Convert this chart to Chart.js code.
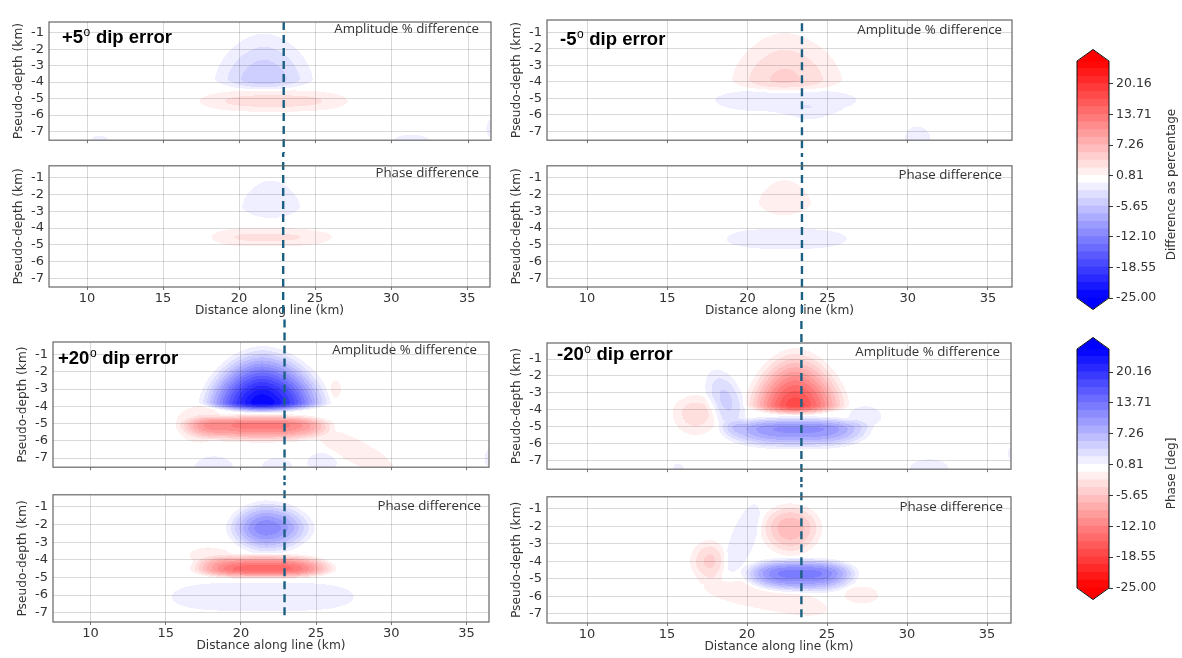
<!DOCTYPE html>
<html>
<head>
<meta charset="utf-8">
<title>Dip error sensitivity</title>
<script src="https://cdn.jsdelivr.net/npm/chart.js@4.4.1/dist/chart.umd.min.js"></script>
<style>
  body { margin: 0; background: #fff; }
  #fig { position: relative; width: 1182px; height: 658px; overflow: hidden; background: #fff; }
  #fig canvas { position: absolute; }
</style>
</head>
<body>
<div id="fig"></div>
<script>
// ---- values ----
const xTicks = [10, 15, 20, 25, 30, 35];
const depthTicks = [-1, -2, -3, -4, -5, -6, -7];
const stations = [15, 16, 17, 18, 19, 20, 21, 22, 23, 24, 25, 26, 27, 28, 29];
const colorTicks = [-25.00, -18.55, -12.10, -5.65, 0.81, 7.26, 13.71, 20.16];
const profileLeft = 22.9;   // dashed profile, left column (km)
const profileRight = 23.4;  // dashed profile, right column (km)

// anomalies: [x km, depth km, reach left, reach right, reach up, reach down, peak,
//             x shape, z shape, tilt]   (reaches go to the faintest visible contour)
const ampPlus5 = [
  [21.6, -3.85, 3.2, 3.2, 2.8, 0.65, -5.5, 1.8, 1.6],
  [22.2, -5.15, 4.8, 4.9, 0.65, 0.65, 3.2, 3],
  [10.8, -7.5, 0.5, 0.5, 0.25, 0.3, -1.2],
  [31.3, -7.6, 1.2, 1.2, 0.4, 0.3, -1.3],
  [36.6, -6.8, 0.4, 0.4, 0.6, 0.6, -1.3]
];
const phasePlus5 = [
  [22.1, -2.75, 1.9, 1.9, 1.6, 0.65, 1.9, 1.8, 1.6],
  [21.5, -4.55, 3.3, 4.6, 0.55, 0.55, -2.8, 3]
];
const ampMinus5 = [
  [22.3, -3.9, 3.25, 3.6, 2.85, 0.75, 4.5, 1.8, 1.6],
  [22.4, -5.1, 4.4, 4.4, 0.6, 0.7, -2.2, 3],
  [23.9, -5.8, 1.2, 1.2, 0.3, 0.45, -1.2],
  [30.6, -7.5, 0.8, 0.8, 0.8, 0.3, -1.6]
];
const phaseMinus5 = [
  [22.3, -2.5, 1.6, 1.65, 1.37, 0.73, -1.9, 1.8, 1.6],
  [22.4, -4.65, 3.7, 3.8, 0.6, 0.6, 2.4, 3]
];
const ampPlus20 = [
  [21.4, -3.8, 4.2, 4.6, 3.3, 0.6, -25, 1.8, 1.6],
  [21.5, -5.1, 5.6, 4.7, 0.65, 1.0, 13, 3],
  [17.3, -5.0, 1.6, 1.5, 1.0, 1.1, 3],
  [27.6, -6.6, 2.6, 2.6, 0.75, 0.75, 1.9, 2, 2, -0.4],
  [26.3, -3.0, 0.35, 0.35, 0.5, 0.5, 1.3],
  [18.2, -7.6, 1.3, 1.3, 0.7, 0.3, -1.6],
  [22.4, -7.5, 1.0, 1.0, 0.5, 0.3, -1.5],
  [25.4, -7.3, 1.0, 1.0, 0.6, 0.4, -1.7],
  [36.8, -7.0, 0.6, 0.6, 0.6, 0.6, -1.6]
];
const phasePlus20 = [
  [21.7, -2.2, 2.7, 3.2, 1.57, 1.5, 12, 1.9, 1.8],
  [21.5, -4.5, 4.9, 4.85, 0.85, 0.6, -15, 3],
  [17.8, -3.75, 1.2, 1.5, 0.45, 0.5, -2.2],
  [21.4, -6.1, 6.0, 6.1, 0.8, 0.8, 1.6, 4]
];
const ampMinus20 = [
  [23.0, -3.75, 3.15, 3.4, 3.4, 0.6, 18, 1.8, 1.6],
  [23.3, -5.15, 5.0, 4.5, 0.75, 1.2, -11, 3],
  [18.7, -3.4, 1.3, 1.2, 1.6, 1.9, -4.5, 2, 2, -0.6],
  [27.4, -4.4, 1.0, 1.0, 0.6, 0.6, -2.0],
  [16.8, -4.2, 1.45, 1.4, 1.05, 1.3, 3.5],
  [31.4, -7.5, 1.2, 1.2, 0.55, 0.3, -1.8],
  [15.7, -7.6, 0.35, 0.35, 0.4, 0.2, -1.3],
  [36.8, -6.6, 0.5, 0.5, 0.5, 0.5, -1.5]
];
const phaseMinus20 = [
  [22.7, -2.1, 1.9, 2.0, 1.4, 1.6, -7],
  [23.3, -4.7, 3.6, 3.7, 0.9, 1.15, 13, 3],
  [19.8, -2.6, 1.1, 1.0, 1.4, 1.5, 2.0, 2, 2, 1.2],
  [17.7, -4.0, 1.25, 1.0, 1.2, 1.2, -4.5],
  [21.3, -6.1, 4.0, 3.7, 0.7, 0.7, -2.0, 3, 2, -0.17],
  [27.2, -5.95, 1.1, 1.0, 0.5, 0.45, -2.0]
];

// ---- colour levels (31 bands between -25 and 25, like contourf) ----
const STEP = 50 / 31;
const WHITE = 15;
const FALLOFF = 1.5;
const teal = '#1b6082';

function bwr(v) {
  const t = Math.max(-1, Math.min(1, v / 25));
  if (t >= 0) {
    const c = Math.round(255 * (1 - t));
    return 'rgb(255,' + c + ',' + c + ')';
  }
  const c = Math.round(255 * (1 + t));
  return 'rgb(' + c + ',' + c + ',255)';
}
function bandOf(v) {
  return Math.max(-1, Math.min(31, Math.floor((v + 25) / STEP)));
}
function bandColor(k, reversed) {
  const mid = k < 0 ? -25 : k > 30 ? 25 : -25 + (k + 0.5) * STEP;
  return bwr(reversed ? -mid : mid);
}

function prep(b) {
  const [cx, cz, rl, rr, ru, rd, peak, px = 2, pz = 2, tilt = 0] = b;
  const qv = 1 - Math.pow((STEP / 2) / Math.abs(peak), 1 / FALLOFF);
  const kx = Math.pow(qv, 1 / px), kz = Math.pow(qv, 1 / pz);
  return { cx, cz, sl: rl / kx, sr: rr / kx, su: ru / kz, sd: rd / kz, peak, px, pz, tilt };
}
function fieldAt(list, x, z) {
  let v = 0;
  for (const b of list) {
    const dx = x - b.cx;
    const dz = z - b.cz - b.tilt * dx;
    const sx = dx < 0 ? b.sl : b.sr;
    const sz = dz > 0 ? b.su : b.sd;
    const q = Math.pow(Math.abs(dx) / sx, b.px) + Math.pow(Math.abs(dz) / sz, b.pz);
    if (q < 1) v += b.peak * Math.pow(1 - q, FALLOFF);
  }
  return v;
}

// filled contour field, drawn pixel row by pixel row through the scales
const fieldPlugin = {
  id: 'field',
  beforeDraw(chart, args, opts) {
    if (!opts.blobs) return;
    const { ctx, chartArea: a, scales: { x, y } } = chart;
    const list = opts.blobs.map(prep);
    const x0 = Math.round(a.left), x1 = Math.round(a.right);
    const y0 = Math.round(a.top), y1 = Math.round(a.bottom);
    const xs = [];
    for (let px = x0; px < x1; px++) xs.push(x.getValueForPixel(px + 0.5));
    ctx.save();
    for (let py = y0; py < y1; py++) {
      const z = y.getValueForPixel(py + 0.5);
      let run = null, start = x0;
      for (let i = 0; i <= xs.length; i++) {
        const k = i < xs.length ? bandOf(fieldAt(list, xs[i], z)) : null;
        if (k !== run) {
          if (run !== null && run !== WHITE) {
            ctx.fillStyle = bandColor(run, opts.reversed);
            ctx.fillRect(start, py, x0 + i - start, 1);
          }
          run = k;
          start = x0 + i;
        }
      }
    }
    ctx.restore();
  }
};

// frame, panel titles and corner labels
const textPlugin = {
  id: 'panelText',
  afterDatasetsDraw(chart, args, opts) {
    const { ctx, chartArea: a } = chart;
    ctx.save();
    ctx.strokeStyle = '#666';
    ctx.lineWidth = 1.2;
    ctx.strokeRect(a.left, a.top, a.width, a.height);
    if (opts.corner) {
      ctx.font = '13.3px "Open Sans"';
      ctx.fillStyle = '#333';
      ctx.textAlign = 'right';
      ctx.textBaseline = 'middle';
      ctx.fillText(opts.corner, a.right - opts.cPos[0], a.top + opts.cPos[1]);
    }
    if (opts.title) {
      let tx = a.left + opts.tPos[0];
      const ty = a.top + opts.tPos[1];
      ctx.fillStyle = '#000';
      ctx.textAlign = 'left';
      ctx.textBaseline = 'alphabetic';
      ctx.font = 'bold 18.5px "Liberation Sans"';
      ctx.fillText(opts.title[0], tx, ty);
      tx += ctx.measureText(opts.title[0]).width + 0.5;
      ctx.font = '12px "Liberation Sans"';
      ctx.fillText(opts.title[1], tx, ty - 7);
      tx += ctx.measureText(opts.title[1]).width + 0.5;
      ctx.font = 'bold 18.5px "Liberation Sans"';
      ctx.fillText(opts.title[2], tx, ty);
    }
    ctx.restore();
  }
};

Chart.defaults.font.family = 'DejaVu Sans';
Chart.defaults.color = '#333';
Chart.defaults.animation = false;

const fig = document.getElementById('fig');
const yMin = -7.53;

const panels = [
  { blobs: ampPlus5, phase: false, L: 49, R: 491, T: 22, B: 147, top: 0, yMax: -0.35, x0: profileLeft,
    dashUp: 0, dashDown: 1, title: ['+5', 'o', ' dip error'], tPos: [13, 21], cPos: [12, 7.5] },
  { blobs: phasePlus5, phase: true, L: 49, R: 490, T: 160, B: 287, yMax: -0.27, x0: profileLeft,
    dashUp: 1, dashDown: 1.7, cPos: [11, 7.5] },
  { blobs: ampPlus20, phase: false, L: 53, R: 489, T: 342, B: 474, top: 318, yMax: -0.27, x0: profileLeft,
    dashUp: 1.3, dashDown: 1, title: ['+20', 'o', ' dip error'], tPos: [5, 22], cPos: [12, 8] },
  { blobs: phasePlus20, phase: true, L: 53, R: 489, T: 489, B: 622, yMax: -0.31, x0: profileLeft,
    dashUp: 1, dashDown: -0.2, cPos: [8, 11] },
  { blobs: ampMinus5, phase: false, L: 547, R: 1012, T: 20, B: 147, top: 0, yMax: -0.26, x0: profileRight,
    dashUp: -0.2, dashDown: 1, title: ['-5', 'o', ' dip error'], tPos: [13, 25], cPos: [10, 10] },
  { blobs: phaseMinus5, phase: true, L: 547, R: 1012, T: 160, B: 287, yMax: -0.27, x0: profileRight,
    dashUp: 1, dashDown: 1.7, cPos: [10, 9] },
  { blobs: ampMinus20, phase: false, L: 547, R: 1011, T: 343, B: 476, top: 318, yMax: -0.05, x0: profileRight,
    dashUp: 1.3, dashDown: 1, title: ['-20', 'o', ' dip error'], tPos: [10, 16.5], cPos: [11, 9.3] },
  { blobs: phaseMinus20, phase: true, L: 547, R: 1011, T: 491, B: 623, yMax: -0.32, x0: profileRight,
    dashUp: 1, dashDown: -0.3, cPos: [8, 10] }
];

panels.forEach(p => {
  const cv = document.createElement('canvas');
  const cTop = p.phase ? p.T - 7 : p.top;
  const bottomH = p.phase ? 34 : 6;
  cv.width = p.R - p.L + 50;
  cv.height = p.B - cTop + bottomH;
  cv.style.left = (p.L - 44) + 'px';
  cv.style.top = cTop + 'px';
  fig.appendChild(cv);

  const datasets = [];
  if (!p.phase) {
    datasets.push({
      data: stations.map(s => ({ x: s, y: p.yMax + 0.4 })),
      pointStyle: 'triangle', pointRadius: 3.6, backgroundColor: teal,
      borderWidth: 0, clip: false, order: 0
    });
  }
  datasets.push({
    data: [{ x: p.x0, y: p.yMax + p.dashUp }, { x: p.x0, y: yMin - p.dashDown }],
    showLine: true, borderColor: teal, borderWidth: 2.4, borderDash: [8, 5],
    pointRadius: 0, clip: false, order: 1
  });

  new Chart(cv, {
    type: 'scatter',
    data: { datasets },
    plugins: [fieldPlugin, textPlugin],
    options: {
      responsive: false,
      events: [],
      layout: { padding: { left: 0, right: 6, top: p.phase ? 7 : p.T - p.top, bottom: 0 } },
      plugins: {
        legend: { display: false },
        tooltip: { enabled: false },
        field: { blobs: p.blobs, reversed: p.phase },
        panelText: {
          corner: p.phase ? 'Phase difference' : 'Amplitude % difference',
          cPos: p.cPos, title: p.title, tPos: p.tPos
        }
      },
      scales: {
        x: {
          type: 'linear', min: 7.5, max: 36.5,
          afterBuildTicks: s => { s.ticks = xTicks.map(v => ({ value: v })); },
          afterFit: s => { s.height = bottomH; },
          ticks: { display: p.phase, font: { size: 13 }, padding: 1, maxRotation: 0 },
          grid: { color: 'rgba(0,0,0,0.15)', tickColor: '#777', drawTicks: true, tickLength: 3 },
          border: { display: false },
          title: {
            display: p.phase, text: 'Distance along line (km)',
            font: { size: 12.2 }, padding: { top: 0, bottom: 3 }
          }
        },
        y: {
          type: 'linear', min: yMin, max: p.yMax,
          afterBuildTicks: s => { s.ticks = depthTicks.map(v => ({ value: v })); },
          afterFit: s => { s.width = 44; },
          ticks: { font: { size: 13 }, padding: 5 },
          grid: { color: 'rgba(0,0,0,0.15)', drawTicks: false },
          border: { display: false },
          title: {
            display: true, text: 'Pseudo-depth (km)',
            font: { size: 12.2 }, padding: { top: 7, bottom: 0 }
          }
        }
      }
    }
  });
});

// ---- colour bars ----
const barPlugin = {
  id: 'barExtras',
  afterDatasetsDraw(chart, args, opts) {
    const { ctx, chartArea: a, scales: { y } } = chart;
    const top = y.getPixelForValue(25), bot = y.getPixelForValue(-25);
    const mid = (a.left + a.right) / 2, ext = 11.5;
    ctx.save();
    ctx.fillStyle = opts.reversed ? '#0000ff' : '#ff0000';
    ctx.beginPath();
    ctx.moveTo(a.left, top + 0.5); ctx.lineTo(mid, top - ext); ctx.lineTo(a.right, top + 0.5);
    ctx.closePath(); ctx.fill();
    ctx.fillStyle = opts.reversed ? '#ff0000' : '#0000ff';
    ctx.beginPath();
    ctx.moveTo(a.left, bot - 0.5); ctx.lineTo(mid, bot + ext); ctx.lineTo(a.right, bot - 0.5);
    ctx.closePath(); ctx.fill();
    ctx.strokeStyle = '#111';
    ctx.lineWidth = 1;
    ctx.beginPath();
    ctx.moveTo(a.left, top); ctx.lineTo(mid, top - ext); ctx.lineTo(a.right, top);
    ctx.lineTo(a.right, bot); ctx.lineTo(mid, bot + ext); ctx.lineTo(a.left, bot);
    ctx.closePath(); ctx.stroke();
    ctx.font = '12px "DejaVu Sans"';
    ctx.fillStyle = '#333';
    ctx.textAlign = 'center';
    ctx.textBaseline = 'middle';
    ctx.translate(131.7, (a.top + a.bottom) / 2 + 5);
    ctx.rotate(-Math.PI / 2);
    ctx.fillText(opts.label, 0, 0);
    ctx.restore();
  }
};

function makeColorbar(top, height, padTop, padBottom, reversed, label) {
  const cv = document.createElement('canvas');
  cv.width = 142;
  cv.height = height;
  cv.style.left = '1040px';
  cv.style.top = top + 'px';
  fig.appendChild(cv);
  const datasets = [];
  for (let k = 0; k < 31; k++) {
    const lo = -25 + k * STEP;
    datasets.push({
      data: [[lo, lo + STEP]],
      backgroundColor: bandColor(k, reversed),
      borderWidth: 0, inflateAmount: 0.6,
      grouped: false, barPercentage: 1, categoryPercentage: 1
    });
  }
  new Chart(cv, {
    type: 'bar',
    data: { labels: [''], datasets },
    plugins: [barPlugin],
    options: {
      responsive: false,
      events: [],
      layout: { padding: { left: 37, right: 0, top: padTop, bottom: padBottom } },
      plugins: {
        legend: { display: false },
        tooltip: { enabled: false },
        barExtras: { reversed, label }
      },
      scales: {
        x: { display: false },
        y: {
          position: 'right', min: -25, max: 25,
          afterBuildTicks: s => { s.ticks = colorTicks.map(v => ({ value: v })); },
          afterFit: s => { s.width = 73; },
          ticks: { callback: v => v.toFixed(2), font: { size: 12.5 }, color: '#333', padding: 3 },
          grid: { drawOnChartArea: false, drawTicks: true, tickLength: 4, color: '#333' },
          border: { display: false }
        }
      }
    }
  });
}

makeColorbar(40, 280, 21, 22, false, 'Difference as percentage');
makeColorbar(320, 290, 29, 22, true, 'Phase [deg]');
</script>
</body>
</html>
